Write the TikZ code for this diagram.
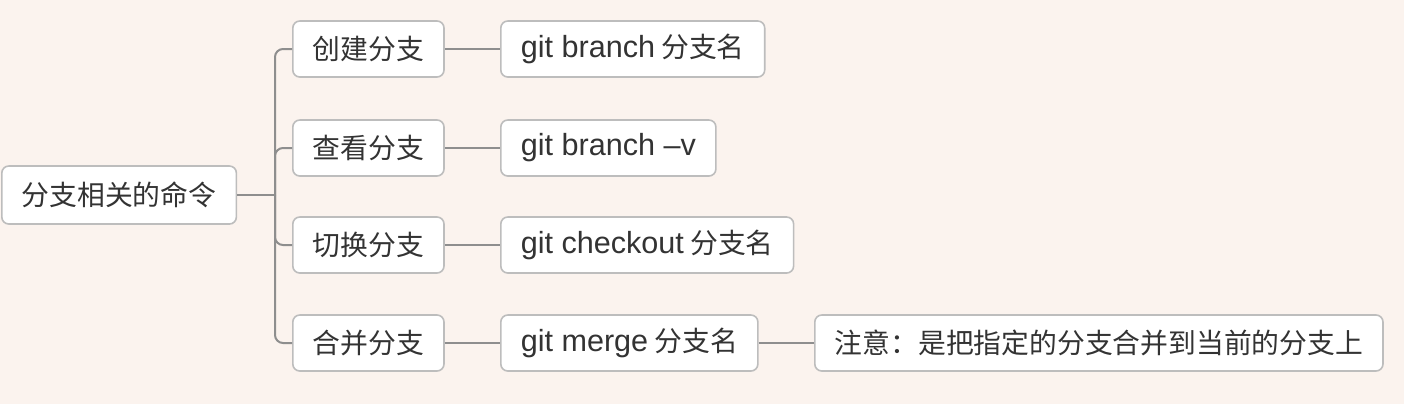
\documentclass[tikz,border=0pt]{standalone}
\usepackage{fontspec}
\setmainfont{Liberation Sans}
\newfontfamily\hei{Noto Sans CJK SC}
\newfontfamily\latn[Scale=1.1]{Liberation Sans}

\definecolor{paper}{HTML}{FBF3EE}
\definecolor{boxline}{HTML}{BDBDBD}
\definecolor{linkgray}{HTML}{8E8E8E}
\definecolor{ink}{HTML}{333333}

\begin{document}
\begin{tikzpicture}[x=0.5pt,y=-0.5pt,
  topic/.style={draw=boxline, fill=white, rounded corners=3.5pt, line width=0.8pt,
    text=ink, font=\hei\fontsize{13.9}{16}\selectfont,
    minimum height=28pt, inner xsep=10pt, anchor=west},
  link/.style={draw=linkgray, line width=1pt, rounded corners=4pt}]

\useasboundingbox[fill=paper] (0,0) rectangle (1404,404);

% root and first level
\node[topic, minimum height=29pt] (root) at (1,195) {分支相关的命令};
\node[topic] (create) at (292,49) {创建分支};
\node[topic] (view) at (292,148) {查看分支};
\node[topic] (switch) at (292,245) {切换分支};
\node[topic] (merge) at (292,343) {合并分支};

% commands
\node[topic] (createcmd) at (500,49) {{\latn git branch} 分支名};
\node[topic] (viewcmd) at (500,148) {\latn git branch –v};
\node[topic] (switchcmd) at (500,245) {{\latn git checkout} 分支名};
\node[topic] (mergecmd) at (500,343) {{\latn git merge} 分支名};
\node[topic] (note) at (814,343) {注意：是把指定的分支合并到当前的分支上};

\coordinate (fork) at (275,195);
\draw[link] (root) -- (fork);
\draw[link] (fork) |- (create);
\draw[link] (fork) |- (view);
\draw[link] (fork) |- (switch);
\draw[link] (fork) |- (merge);

\draw[link] (create) -- (createcmd);
\draw[link] (view) -- (viewcmd);
\draw[link] (switch) -- (switchcmd);
\draw[link] (merge) -- (mergecmd);
\draw[link] (mergecmd) -- (note);

\end{tikzpicture}
\end{document}
